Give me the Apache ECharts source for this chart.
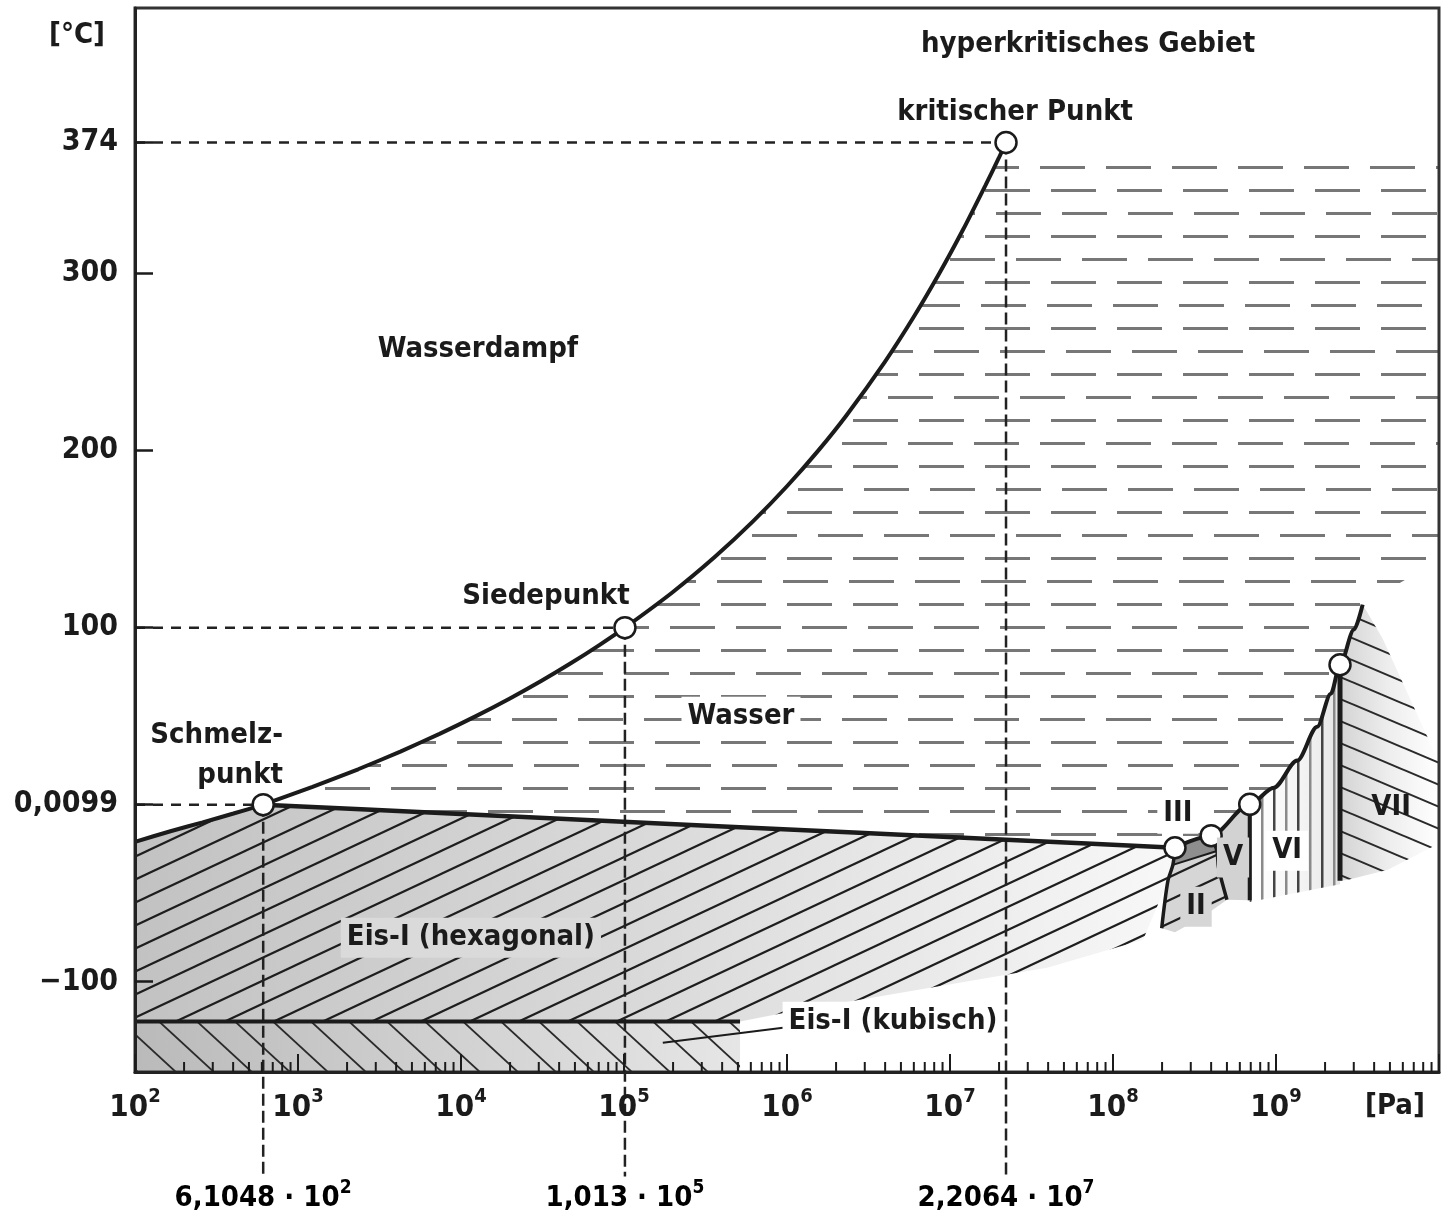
<!DOCTYPE html>
<html>
<head>
<meta charset="utf-8">
<title>Phasendiagramm Wasser</title>
<script src="https://cdn.jsdelivr.net/npm/echarts@6/dist/echarts.min.js"></script>
<style>
  html, body { margin: 0; padding: 0; background: #fff; }
  #chart { width: 1455px; height: 1228px; }
</style>
</head>
<body>
<div id="chart"></div>
<script>
// Phasendiagramm von Wasser: Druck [Pa] (log) gegen Temperatur [°C]
const FONT = '"DejaVu Sans Condensed", "Liberation Sans Narrow", sans-serif'
const INK = '#1b1b1b'
const TXT = 29

// axes
const pMin = 100
const pMax = 1e10
const tMin = -151
const tMax = 450
const guideBottomT = -210
const markLabelT = -221
const yTickValues = [374, 300, 200, 100, 0.0099, -100]
const decades = [1e2, 1e3, 1e4, 1e5, 1e6, 1e7, 1e8, 1e9]
const minorMantissas = [2, 3, 4, 5, 6, 7, 8, 9]

// curves [pressure Pa, temperature °C]
const sublimation = [[100, -21], [165, -15], [260, -10], [402, -5], [611.657, 0.01]]
const vaporization = [
  [611.657, 0.01], [1228, 10], [2339, 20], [4247, 30], [7385, 40], [12352, 50],
  [19946, 60], [31201, 70], [47414, 80], [70182, 90], [101325, 100], [198670, 120],
  [361540, 140], [618230, 160], [1.0028e6, 180], [1.5549e6, 200], [2.3196e6, 220],
  [3.9762e6, 250], [5.9453e6, 275], [8.5879e6, 300], [1.2056e7, 325], [1.6529e7, 350],
  [1.9859e7, 365], [2.2064e7, 374]
]
const meltingIceI = [[611.657, 0.01], [1e4, -5.3], [3e5, -11.7], [2.2064e7, -19.8], [2.4e8, -24.3]]
const meltingHigh = [
  [2.4e8, -24.3], [4.0e8, -17.5], [6.9e8, 0.2], [9.7e8, 9.6], [1.35e9, 24.9],
  [1.79e9, 44], [2.17e9, 62.7], [2.47e9, 79], [3.01e9, 98.9], [3.4e9, 113]
]
const cubicLine = [[100, -122.5], [5.15e5, -122.5]]
const iceIIleft = [[2.4e8, -24.3], [2.33e8, -34], [2.17e8, -43.2], [1.99e8, -69.8]]
const iceIIright = [[4.0e8, -17.5], [4.34e8, -26.2], [4.44e8, -35.6], [5.0e8, -53.7]]
const iceIIIlower = [[2.33e8, -34], [4.34e8, -26.2]]
const iceVborder = [[6.9e8, 0.2], [6.9e8, -54]]
const iceVIIborder = [[2.47e9, 79], [2.47e9, -43]]
const iceIFringe = [[1.53e8, -76.3], [3.94e7, -92.1], [1.04e6, -116.9]]
const iceIIbottom = [[3.6e8, -63], [2.4e8, -72]]
const iceVIbottom = [[2.47e9, -45], [6.9e8, -55]]
const iceVIIouter = [[4.5e9, 94], [1e10, 24], [1e10, -22], [4.86e9, -36.7], [2.77e9, -42.4]]
const waterTop = 365
const waterRightT = 138
const kubischPointer = [[9.44e5, -126], [1.73e5, -134.5]]

// marked points: Tripelpunkt, Siedepunkt, kritischer Punkt, Eis-Tripelpunkte
const markedPoints = [[611.657, 0.01], [101325, 100], [2.2064e7, 374], [2.4e8, -24.3], [4.0e8, -17.5], [6.9e8, 0.2], [2.47e9, 79]]
const guidePoints = [[611.657, 0.01], [101325, 100], [2.2064e7, 374]]
const pressureMarks = [['6,1048 · 10', '2', 610.48], ['1,013 · 10', '5', 101300], ['2,2064 · 10', '7', 2.2064e7]]

const annotations = [
  ['hyperkritisches Gebiet', 7.03e7, 429.4],
  ['kritischer Punkt', 2.51e7, 391],
  ['Wasserdampf', 1.27e4, 257],
  ['Siedepunkt', 3.32e4, 117.5],
  ['Wasser', 5.22e5, 49.7],
  ['Schmelz-\npunkt', 809, 27.7],
  ['Eis-I (hexagonal)', 1.15e4, -75.1],
  ['Eis-I (kubisch)', 4.47e6, -122.6],
  ['III', 2.5e8, -5.1],
  ['II', 3.23e8, -57.6],
  ['V', 5.45e8, -29.9],
  ['VI', 1.17e9, -26],
  ['VII', 5.08e9, -1.7]
]

// region outlines built from the curves
const rev = a => a.slice().reverse()
const vapBelowTop = vaporization.filter(p => p[1] < waterTop)
const regionShapes = {
  water: [[vaporization.find(p => p[1] === waterTop)[0], waterTop], [pMax, waterTop], [pMax, waterRightT]]
    .concat(rev(meltingHigh), rev(meltingIceI).slice(1), vapBelowTop.slice(1)),
  iceI: sublimation.concat(meltingIceI.slice(1), iceIIleft.slice(1, 3), iceIFringe, rev(cubicLine)),
  cubic: cubicLine.concat([[cubicLine[1][0], tMin], [pMin, tMin]]),
  iceII: iceIIIlower.concat(iceIIright.slice(2), iceIIbottom, rev(iceIIleft).slice(0, 2)),
  iceIII: [iceIIleft[0], iceIIright[0], iceIIright[1], iceIIleft[1]],
  iceV: meltingHigh.slice(1, 3).concat([iceVborder[1]], rev(iceIIright).slice(0, 3)),
  iceVI: meltingHigh.slice(2, 8).concat(iceVIbottom),
  iceVII: meltingHigh.slice(7).concat(iceVIIouter, [iceVIIborder[1]])
}
const regionOrder = ['water', 'iceI', 'cubic', 'iceII', 'iceIII', 'iceV', 'iceVI', 'iceVII']

function makePattern (w, h, draw) {
  const c = document.createElement('canvas')
  c.width = w
  c.height = h
  draw(c.getContext('2d'))
  return { image: c, repeat: 'repeat' }
}
function slanted (ctx, w, h, rising) {
  for (let k = -1; k <= 1; k++) {
    ctx.beginPath()
    if (rising) {
      ctx.moveTo(-4, h * (1 + k) + 4 * h / w)
      ctx.lineTo(w + 4, h * k - 4 * h / w)
    } else {
      ctx.moveTo(-4, h * k - 4 * h / w)
      ctx.lineTo(w + 4, h * (1 + k) + 4 * h / w)
    }
    ctx.stroke()
  }
}
const risingHatch = makePattern(49, 23, ctx => {
  ctx.strokeStyle = '#1e1e1e'
  ctx.lineWidth = 2.2
  slanted(ctx, 49, 23, true)
})
const fallingHatch = makePattern(52, 22, ctx => {
  ctx.strokeStyle = '#2a2a2a'
  ctx.lineWidth = 2
  slanted(ctx, 52, 22, false)
})
const cubicHatch = makePattern(38, 35, ctx => {
  ctx.strokeStyle = '#2a2a2a'
  ctx.lineWidth = 1.8
  slanted(ctx, 38, 35, false)
})
const waterDash = makePattern(66, 276, ctx => {
  const shifts = [61, 57, 61, 10, 61, 30, 61, 50, 61, 6, 61, 26]
  ctx.fillStyle = '#777'
  shifts.forEach((s, r) => {
    for (let x = s - 66; x < 66; x += 66) ctx.fillRect(x, r * 23 + 5, 45, 3)
  })
})
const verticalHatch = makePattern(24, 8, ctx => {
  ctx.fillStyle = '#444'
  ctx.fillRect(1, 0, 2.5, 8)
  ctx.fillStyle = '#8a8a8a'
  ctx.fillRect(13, 0, 2.5, 8)
})
const grad = (a, b, c) => new echarts.graphic.LinearGradient(0, 0, 1, 0, [
  { offset: 0, color: a }, { offset: 0.5, color: b }, { offset: 1, color: c }
])
const regionStyles = {
  water: [{ fill: waterDash }],
  iceI: [{ fill: grad('#c2c2c2', '#dadada', '#f8f8f8') }, { fill: risingHatch }],
  cubic: [{ fill: grad('#bababa', '#d0d0d0', '#e6e6e6') }, { fill: cubicHatch }],
  iceII: [{ fill: '#d6d6d6' }, { fill: risingHatch }],
  iceIII: [{ fill: '#8e8e8e' }],
  iceV: [{ fill: '#d2d2d2' }],
  iceVI: [{ fill: grad('#ffffff', '#f6f6f6', '#e6e6e6') }, { fill: verticalHatch }],
  iceVII: [{ fill: grad('#d4d4d4', '#eeeeee', '#ffffff') }, { fill: fallingHatch }]
}
const labelBoxes = {
  'Wasser': '#ffffff',
  'Eis-I (hexagonal)': '#dadada',
  'Eis-I (kubisch)': '#ffffff',
  'III': '#ffffff',
  'II': '#d6d6d6',
  'V': '#d2d2d2',
  'VI': '#ffffff'
}

const minorTicks = []
decades.forEach(d => minorMantissas.forEach(m => minorTicks.push([m * d, tMin])))

const supRich = (size, sup) => ({
  b: { fontSize: size, fontFamily: FONT, fontWeight: 'bold', color: INK, lineHeight: size + 5, verticalAlign: 'bottom' },
  s: { fontSize: sup, fontFamily: FONT, fontWeight: 'bold', color: INK, lineHeight: sup + 2, verticalAlign: 'top' }
})

const chart = echarts.init(document.getElementById('chart'))
chart.setOption({
  animation: false,
  backgroundColor: '#fff',
  grid: {
    left: 135,
    right: 16,
    top: 8,
    bottom: 156,
    show: true,
    z: 4,
    borderColor: '#333',
    borderWidth: 3,
    backgroundColor: 'transparent',
    outerBoundsMode: 'none'
  },
  xAxis: {
    type: 'log',
    logBase: 10,
    min: pMin,
    max: pMax,
    interval: 1,
    z: 4,
    name: '[Pa]',
    nameLocation: 'end',
    nameGap: -44,
    nameTextStyle: { fontFamily: FONT, fontWeight: 'bold', fontSize: TXT, color: INK, align: 'center', verticalAlign: 'top', padding: [20, 0, 0, 0] },
    axisLine: { show: true, onZero: false, lineStyle: { color: '#222', width: 3 } },
    axisTick: { show: true, inside: true, length: 18, lineStyle: { color: INK, width: 2 } },
    splitLine: { show: false },
    minorTick: { show: false },
    axisLabel: {
      margin: 15,
      formatter: v => {
        const e = Math.round(Math.log10(v))
        return e > 9 ? '' : '{b|10}{s|' + e + '}'
      },
      rich: supRich(31, 20)
    }
  },
  yAxis: {
    type: 'value',
    min: tMin,
    max: tMax,
    z: 4,
    name: '[°C]',
    nameLocation: 'end',
    nameGap: -42,
    nameTextStyle: { fontFamily: FONT, fontWeight: 'bold', fontSize: TXT, color: INK, align: 'right', verticalAlign: 'bottom', padding: [0, 30, 0, 0] },
    axisLine: { show: true, onZero: false, lineStyle: { color: '#222', width: 3 } },
    axisTick: { show: true, inside: true, length: 18, customValues: yTickValues, lineStyle: { color: INK, width: 2.5 } },
    splitLine: { show: false },
    axisLabel: {
      margin: 17,
      customValues: yTickValues,
      fontFamily: FONT,
      fontWeight: 'bold',
      fontSize: 30,
      color: INK,
      formatter: v => v === 0.0099 ? '0,0099' : (v < 0 ? '\u2212' + Math.abs(v) : String(v))
    }
  },
  series: [
    {
      type: 'custom',
      name: 'Phasengebiete',
      silent: true,
      z: 1,
      data: regionOrder.map(k => regionShapes[k][0]),
      renderItem: (params, api) => {
        const key = regionOrder[params.dataIndex]
        const pts = regionShapes[key].map(p => api.coord(p))
        return {
          type: 'group',
          children: regionStyles[key].map(st => ({ type: 'polygon', shape: { points: pts }, style: st }))
        }
      }
    },
    {
      type: 'custom',
      name: 'Hilfslinien',
      silent: true,
      z: 2,
      data: guidePoints,
      renderItem: (params, api) => {
        const p = api.value(0)
        const t = api.value(1)
        const a = api.coord([pMin, t])
        const b = api.coord([p, t])
        const c = api.coord([p, guideBottomT])
        return {
          type: 'group',
          children: [
            { type: 'line', shape: { x1: a[0], y1: a[1], x2: b[0], y2: b[1] }, style: { stroke: '#222', lineWidth: 2.5, lineDash: [10, 8] } },
            { type: 'line', shape: { x1: b[0], y1: b[1], x2: c[0], y2: c[1] }, style: { stroke: '#222', lineWidth: 2.5, lineDash: [12, 5] } }
          ]
        }
      }
    },
    {
      type: 'custom',
      name: 'Nebenstriche',
      silent: true,
      z: 5,
      data: minorTicks,
      renderItem: (params, api) => {
        const c = api.coord([api.value(0), tMin])
        return { type: 'line', shape: { x1: c[0], y1: c[1], x2: c[0], y2: c[1] - 10 }, style: { stroke: INK, lineWidth: 2 } }
      }
    },
    { type: 'line', name: 'Sublimation', data: sublimation, symbol: 'none', smooth: 0.2, silent: true, z: 3, lineStyle: { color: INK, width: 4 } },
    { type: 'line', name: 'Verdampfung', data: vaporization, symbol: 'none', smooth: 0.2, silent: true, z: 3, lineStyle: { color: INK, width: 4 } },
    { type: 'line', name: 'Schmelzen Eis-I', data: meltingIceI, symbol: 'none', smooth: 0.2, silent: true, z: 3, lineStyle: { color: INK, width: 4.5 } },
    { type: 'line', name: 'Schmelzen Hochdruck', data: meltingHigh, symbol: 'none', smooth: 0.3, smoothMonotone: 'x', silent: true, z: 3, lineStyle: { color: INK, width: 4 } },
    { type: 'line', name: 'Eis-I kubisch', data: cubicLine, symbol: 'none', silent: true, z: 3, lineStyle: { color: INK, width: 4 } },
    { type: 'line', name: 'Eis II links', data: iceIIleft, symbol: 'none', smooth: 0.3, silent: true, z: 3, lineStyle: { color: INK, width: 3.5 } },
    { type: 'line', name: 'Eis II rechts', data: iceIIright, symbol: 'none', smooth: 0.3, silent: true, z: 3, lineStyle: { color: INK, width: 3.5 } },
    { type: 'line', name: 'Eis III', data: iceIIIlower, symbol: 'none', silent: true, z: 3, lineStyle: { color: INK, width: 2 } },
    { type: 'line', name: 'Eis V/VI', data: iceVborder, symbol: 'none', silent: true, z: 3, lineStyle: { color: INK, width: 4 } },
    { type: 'line', name: 'Eis VI/VII', data: iceVIIborder, symbol: 'none', silent: true, z: 3, lineStyle: { color: INK, width: 5 } },
    { type: 'line', name: 'Zeiger', data: kubischPointer, symbol: 'none', silent: true, z: 3, lineStyle: { color: INK, width: 2 } },
    {
      type: 'scatter',
      name: 'Punkte',
      data: markedPoints,
      symbol: 'circle',
      symbolSize: 21,
      silent: true,
      z: 6,
      itemStyle: { color: '#fff', borderColor: INK, borderWidth: 2.5, opacity: 1 }
    },
    {
      type: 'custom',
      name: 'Beschriftung',
      silent: true,
      z: 7,
      data: annotations.map(a => [a[1], a[2]]),
      renderItem: (params, api) => {
        const txt = annotations[params.dataIndex][0]
        const c = api.coord([api.value(0), api.value(1)])
        const bg = labelBoxes[txt]
        const multi = txt.indexOf('\n') >= 0
        return {
          type: 'text',
          x: c[0],
          y: c[1],
          style: {
            text: txt,
            fontFamily: FONT,
            fontWeight: 'bold',
            fontSize: TXT,
            lineHeight: 40,
            fill: INK,
            align: multi ? 'right' : 'center',
            verticalAlign: 'middle',
            backgroundColor: bg || null,
            padding: bg ? [0, 6] : 0
          }
        }
      }
    },
    {
      type: 'custom',
      name: 'Druckwerte',
      silent: true,
      z: 7,
      data: pressureMarks.map(m => [m[2], markLabelT]),
      renderItem: (params, api) => {
        const m = pressureMarks[params.dataIndex]
        const c = api.coord([api.value(0), api.value(1)])
        return {
          type: 'text',
          x: c[0],
          y: c[1],
          style: {
            text: '{b|' + m[0] + '}{s|' + m[1] + '}',
            rich: supRich(29, 19),
            align: 'center',
            verticalAlign: 'middle'
          }
        }
      }
    }
  ]
})
window.onresize = function () { chart.resize() }
</script>
</body>
</html>
